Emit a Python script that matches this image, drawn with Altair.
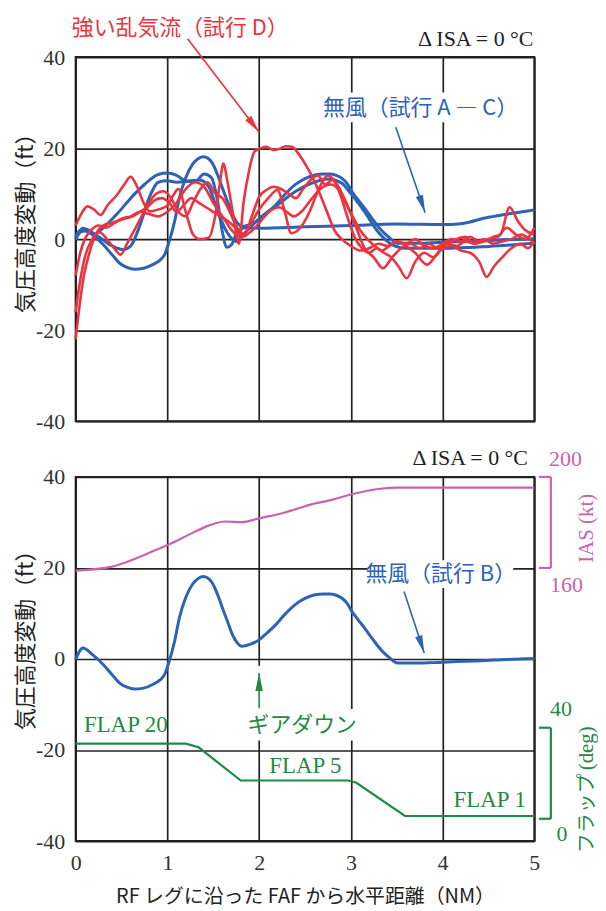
import math
import altair as alt
import pandas as pd

# ---------------- data ----------------
X_DOMAIN = [0, 5]
Y_DOMAIN = [-40, 40]
X_TICKS = [0, 1, 2, 3, 4, 5]
Y_TICKS = [-40, -20, 0, 20, 40]

# no-wind trial B (appears in both panels)
B_X = [0, 0.08, 0.18, 0.30, 0.40, 0.48, 0.56, 0.64, 0.74, 0.84, 0.92, 0.97, 1.02, 1.08, 1.13, 1.20, 1.27,
       1.33, 1.39, 1.44, 1.49, 1.55, 1.60, 1.66, 1.71, 1.76, 1.81, 1.90, 2.00, 2.09, 2.18, 2.28, 2.39, 2.50,
       2.61, 2.70, 2.77, 2.84, 2.90, 2.96, 3.01, 3.08, 3.15, 3.24, 3.33, 3.42, 3.51, 3.70, 3.88, 4.10, 4.42,
       4.70, 5.0]
B_Y = [-0.1, 2.4, 1.0, -1.2, -3.5, -5.3, -6.2, -6.6, -6.4, -5.6, -4.6, -3.4, -0.5, 4.0, 9.0, 13.5, 16.3,
       17.6, 18.1, 17.8, 16.7, 14.0, 11.2, 8.0, 5.3, 3.6, 2.8, 3.2, 4.2, 5.8, 7.5, 9.8, 11.9, 13.3,
       14.1, 14.3, 14.3, 14.0, 13.4, 12.2, 10.5, 8.6, 6.8, 4.3, 2.0, 0.3, -0.9, -0.9, -0.8, -0.6, -0.4,
       -0.1, 0.1]

# no-wind trial A
A_X = [0, 0.05, 0.1, 0.2, 0.3, 0.45, 0.6, 0.75, 0.9, 1.0, 1.1, 1.2, 1.3, 1.4, 1.48, 1.55, 1.6, 1.65,
       1.7, 1.76, 1.85, 2.0, 2.5, 3.0, 3.5, 4.0, 4.2, 4.5, 4.8, 5.0]
A_Y = [0, 1.5, 1.8, 1.0, 2.5, 5.5, 9, 12, 14.2, 14.5, 14, 12.8, 12.6, 14.3, 13.5, 8, 1.5, -1.8,
       -1.2, 1.5, 2.5, 2.4, 2.7, 3.0, 3.3, 3.2, 3.4, 4.8, 5.8, 6.4]

# no-wind trial C
C_X = [0, 0.05, 0.1, 0.25, 0.4, 0.52, 0.6, 0.7, 0.8, 0.9, 1.0, 1.1, 1.25, 1.35, 1.45, 1.55, 1.65, 1.75,
       1.85, 2.0, 2.2, 2.4, 2.6, 2.75, 2.9, 3.0, 3.15, 3.3, 3.45, 3.6, 4.0, 4.5, 5.0]
C_Y = [0.5, 2, 2.2, 0.5, -1.5, -2.3, -1.5, 3, 9, 12.5, 12.8, 12.5, 12.8, 13.0, 11.5, 6, 1.5, -0.5,
       1.5, 4.5, 7.5, 10.5, 12.5, 13.2, 12.3, 10, 6, 1.5, -1.2, -2.0, -2.0, -1.6, -0.9]

# strong turbulence trial D (four runs)
R1_X = [0, 0.06, 0.13, 0.2, 0.27, 0.35, 0.45, 0.53, 0.6, 0.67, 0.74, 0.81, 0.9, 0.99, 1.06, 1.12, 1.2,
        1.28, 1.35, 1.45, 1.52, 1.57, 1.61, 1.66, 1.72, 1.78, 1.83, 1.88, 1.95, 2.02, 2.08, 2.15, 2.22,
        2.29, 2.36, 2.42, 2.5, 2.58, 2.66, 2.74, 2.82, 2.9, 3.0, 3.1, 3.2, 3.3, 3.4, 3.5, 3.6, 3.7, 3.8,
        3.9, 4.0, 4.1, 4.2, 4.3, 4.4, 4.5, 4.6, 4.7, 4.8, 4.9, 5.0]
R1_Y = [3, 5.5, 7.2, 6.5, 5.3, 7.5, 9.7, 12, 13.7, 11.5, 8, 6.1, 6.5, 7.2, 9.5, 11, 6,
        1, 0, 0.3, 5, 12, 16.6, 12, 5, -1, 8, 14, 19.2, 20, 20.3, 19.6, 19.8,
        20.4, 20.3, 19, 16.6, 13.7, 10, 6, 2, 0, -1.5, -2.5, -2, -1, -1.5, -0.5, -1, 0, -1.5,
        -2, -1, 0, -0.5, 0.5, -0.5, 0, 0.5, 2.5, 1, 0, 2.5]

R2_X = [0, 0.05, 0.1, 0.17, 0.25, 0.33, 0.42, 0.5, 0.6, 0.7, 0.8, 0.9, 1.0, 1.1, 1.2, 1.3, 1.4, 1.5,
        1.6, 1.7, 1.8, 1.9, 2.0, 2.1, 2.2, 2.28, 2.35, 2.45, 2.55, 2.65, 2.75, 2.85, 2.95, 3.05, 3.15,
        3.25, 3.35, 3.45, 3.55, 3.65, 3.75, 3.85, 3.95, 4.05, 4.15, 4.25, 4.35, 4.45, 4.55, 4.63, 4.73,
        4.82, 4.9, 5.0]
R2_Y = [-8, -3, 0, 2, 3, 2.5, 3.5, 4.5, 5, 6, 5.5, 5, 6, 8, 11, 12.5, 11.5, 8,
        5, 2, 0.5, 3, 6.5, 9, 10.8, 6, 1.3, 2.5, 6, 11, 14, 12, 8, 3, -2,
        -4, -6.4, -4, -2, -1, -2, -1, -2, -1, 0, 0.5, -1, -0.5, 0.5, 1, 7,
        4, 2, 1]

R3_X = [0, 0.05, 0.1, 0.18, 0.26, 0.34, 0.42, 0.49, 0.56, 0.64, 0.72, 0.8, 0.88, 0.96, 1.04, 1.12, 1.2,
        1.28, 1.36, 1.44, 1.52, 1.6, 1.68, 1.76, 1.84, 1.92, 2.0, 2.08, 2.16, 2.24, 2.32, 2.4, 2.48, 2.56,
        2.64, 2.72, 2.8, 2.88, 2.96, 3.04, 3.12, 3.2, 3.28, 3.36, 3.44, 3.52, 3.61, 3.7, 3.8, 3.9, 4.0,
        4.1, 4.2, 4.3, 4.4, 4.48, 4.56, 4.65, 4.75, 4.85, 4.93, 5.0]
R3_Y = [-16, -9, -4, 0, 1.5, 0, -2, -3.4, -1, 2, 5, 8, 10, 10.5, 9, 6, 5,
        8, 11, 12.5, 10, 9, 6, 2.5, 1, 5, 9.3, 10.8, 11.5, 11, 10, 9, 11, 13,
        14, 12, 13, 10, 5, 0.5, -2, -3, -2, -3, -4, -6, -8.6, -5, -3, -4, -2,
        -1.5, -2.5, -3, -5, -8.3, -6, -4, -2, -1, -2, -0.5]

R4_X = [0, 0.04, 0.09, 0.15, 0.22, 0.3, 0.38, 0.46, 0.54, 0.62, 0.7, 0.78, 0.86, 0.94, 1.02, 1.1, 1.18,
        1.26, 1.34, 1.42, 1.5, 1.58, 1.66, 1.74, 1.82, 1.9, 1.98, 2.06, 2.14, 2.22, 2.3, 2.38, 2.46, 2.54,
        2.62, 2.7, 2.78, 2.86, 2.94, 3.02, 3.1, 3.18, 3.26, 3.34, 3.42, 3.5, 3.6, 3.7, 3.83, 3.95, 4.05,
        4.15, 4.25, 4.35, 4.45, 4.55, 4.65, 4.75, 4.85, 5.0]
R4_Y = [-22, -15, -8, -3, 1, 3, 3.5, 4, 4.5, 5, 6, 7, 8.5, 9, 8, 6, 7.5,
        9, 8, 7, 6, 5, 4, 2.5, 0.5, 1.5, 3, 5, 6.5, 7, 6, 5, 6, 8,
        10, 11.5, 12, 11, 8, 5, 2, 0, -1.5, -2.5, -1.5, -0.5, -1.5, -3, -5.6, -3, -1,
        -1.5, -0.5, -1, 0, -1, -0.5, 0, 1, -1]

# IAS (kt) and flap (deg), bottom panel
IAS_X = [0, 0.4, 0.62, 0.84, 1.02, 1.27, 1.45, 1.63, 1.81, 2.0, 2.29, 2.43, 2.54, 2.79, 3.01, 3.30,
         3.51, 3.8, 4.2, 5.0]
IAS_KT = [158.8, 160.6, 163.6, 167.3, 170.4, 175.3, 178.6, 180.4, 180.1, 181.8, 184.5, 186.2, 187.6,
          189.9, 192.4, 194.7, 195.3, 195.3, 195.3, 195.3]
FLAP_X = [0, 1.20, 1.34, 1.80, 2.97, 3.06, 3.59, 5.0]
FLAP_DEG = [33.0, 33.0, 31.4, 16.8, 16.8, 15.8, 1.2, 1.2]

# secondary scales placed on the ft axis: (value range) -> (ft range)
IAS_RANGE = [160, 200]
IAS_FT = [20, 40]
FLAP_RANGE = [0, 40]
FLAP_FT = [-35.1, -15.1]

BLUE = "#2d62b6"
RED = "#ec3440"
PINK = "#cc62ae"
GREEN = "#1f8a45"
INK = "#222222"
JP = "Noto Sans CJK JP"
SERIF = "Liberation Serif"
FS_JP = 22
FS_SERIF = 22

W, H = 461, 366
SX = W / (X_DOMAIN[1] - X_DOMAIN[0])
SY = H / (Y_DOMAIN[1] - Y_DOMAIN[0])


def ias_to_ft(v):
    return IAS_FT[0] + (v - IAS_RANGE[0]) * (IAS_FT[1] - IAS_FT[0]) / (IAS_RANGE[1] - IAS_RANGE[0])


def flap_to_ft(v):
    return FLAP_FT[0] + (v - FLAP_RANGE[0]) * (FLAP_FT[1] - FLAP_FT[0]) / (FLAP_RANGE[1] - FLAP_RANGE[0])


def head_angle(x1, y1, x2, y2):
    dx = (x2 - x1) * SX
    dy = -(y2 - y1) * SY
    return math.degrees(math.atan2(dx, -dy)) % 360


xs = alt.Scale(domain=X_DOMAIN, nice=False, zero=False)
ys = alt.Scale(domain=Y_DOMAIN, nice=False, zero=False)

Y_TITLE = "気圧高度変動（ft）"
X_TITLE = "RF レグに沿った FAF から水平距離（NM）"

Y_AXIS = alt.Axis(values=Y_TICKS, title=None, labelExpr="'' + datum.value",
                  labelFont=SERIF, labelFontSize=FS_SERIF, labelColor="#333", labelPadding=11,
                  ticks=False, tickSize=0, domain=False, grid=True, gridColor=INK,
                  gridWidth=1.7, gridOpacity=1)
X_AXIS_BOTTOM = alt.Axis(values=X_TICKS, title=X_TITLE, titleFont=JP,
                         titleFontSize=20, titleFontWeight="normal", titleColor=INK, titlePadding=13,
                         labelFont=SERIF, labelFontSize=FS_SERIF, labelColor="#333", labelPadding=12,
                         ticks=False, tickSize=0, domain=False, grid=True, gridColor=INK,
                         gridWidth=1.7, gridOpacity=1, labelFlush=False)
X_AXIS_TOP = alt.Axis(values=X_TICKS, title=None, labels=False, ticks=False, tickSize=0, domain=False,
                      grid=True, gridColor=INK, gridWidth=1.7, gridOpacity=1)


class Panel:
    def __init__(self, x_axis):
        self.x_axis = x_axis

    def x(self, field):
        return alt.X(field, scale=xs, axis=self.x_axis)

    def y(self, field):
        return alt.Y(field, scale=ys, axis=Y_AXIS)

    def line(self, df, color, width, interp="monotone"):
        return alt.Chart(df).mark_line(color=color, strokeWidth=width, interpolate=interp).encode(
            x=self.x("x:Q"), y=self.y("y:Q"), detail="s:N")

    def text(self, rows, **kw):
        return alt.Chart(pd.DataFrame(rows)).mark_text(baseline="middle", **kw).encode(
            x=self.x("x:Q"), y=self.y("y:Q"), text="t:N")

    def rects(self, rows):
        return alt.Chart(pd.DataFrame(rows)).mark_rect(fill="white").encode(
            x=self.x("x:Q"), x2="x2:Q", y=self.y("y:Q"), y2="y2:Q")

    def arrows(self, rows):
        df = pd.DataFrame(rows)
        df["angle"] = [head_angle(r.x, r.y, r.x2, r.y2) for r in df.itertuples()]
        shaft = alt.Chart(df).mark_rule(strokeWidth=1.6).encode(
            x=self.x("x:Q"), x2="x2:Q", y=self.y("y:Q"), y2="y2:Q",
            color=alt.Color("c:N", scale=None))
        head = alt.Chart(df).mark_point(shape="M0,0L-0.42,2L0.42,2Z", filled=True, opacity=1,
                                        size=320, strokeWidth=0).encode(
            x=self.x("x2:Q"), y=self.y("y2:Q"),
            angle=alt.Angle("angle:Q", scale=None),
            color=alt.Color("c:N", scale=None))
        return [shaft, head]


def lines_df(pairs):
    rows = []
    for name, xv, yv in pairs:
        for a, b in zip(xv, yv):
            rows.append({"x": a, "y": b, "s": name})
    return pd.DataFrame(rows)


# ---------------- top panel ----------------
P1 = Panel(X_AXIS_TOP)
top_blue = lines_df([("A", A_X, A_Y), ("B", B_X, B_Y), ("C", C_X, C_Y)])
top_red = lines_df([("D1", R1_X, R1_Y), ("D2", R2_X, R2_Y), ("D3", R3_X, R3_Y), ("D4", R4_X, R4_Y)])

top = alt.layer(
    P1.rects([{"x": 2.72, "x2": 4.80, "y": 25.7, "y2": 32.2}]),
    P1.line(top_blue, BLUE, 3),
    P1.line(top_red, RED, 2.6),
    *P1.arrows([
        {"x": 1.22, "y": 44.0, "x2": 2.0, "y2": 23.5, "c": RED},
        {"x": 3.49, "y": 24.6, "x2": 3.81, "y2": 5.8, "c": BLUE},
    ]),
    P1.text([{"x": 1.14, "y": 46.4, "t": "強い乱気流（試行 D）"}],
            font=JP, fontSize=FS_JP, color=RED, align="center"),
    P1.text([{"x": 3.76, "y": 28.9, "t": "無風（試行 A ― C）"}],
            font=JP, fontSize=FS_JP, color=BLUE, align="center"),
    P1.text([{"x": 4.99, "y": 44.0, "t": "Δ ISA = 0 °C"}],
            font=SERIF, fontSize=FS_SERIF, color=INK, align="right"),
    P1.text([{"x": -0.54, "y": 4.7, "t": Y_TITLE}],
            font=JP, fontSize=FS_JP, color=INK, align="center", angle=270),
).properties(width=W, height=H)

# ---------------- bottom panel ----------------
P2 = Panel(X_AXIS_BOTTOM)
b_df = lines_df([("B", B_X, B_Y)])
ias_df = lines_df([("IAS", IAS_X, [ias_to_ft(v) for v in IAS_KT])])
flap_df = lines_df([("flap", FLAP_X, [flap_to_ft(v) for v in FLAP_DEG])])

BR_X_IN, BR_X_OUT = 5.05, 5.18
brackets = []
for lo, hi, col in [(ias_to_ft(IAS_RANGE[0]), ias_to_ft(IAS_RANGE[1]), PINK),
                    (flap_to_ft(FLAP_RANGE[0]), flap_to_ft(FLAP_RANGE[1]), GREEN)]:
    brackets += [
        {"x": BR_X_OUT, "x2": BR_X_OUT, "y": lo, "y2": hi, "c": col},
        {"x": BR_X_IN, "x2": BR_X_OUT, "y": lo, "y2": lo, "c": col},
        {"x": BR_X_IN, "x2": BR_X_OUT, "y": hi, "y2": hi, "c": col},
    ]
bracket_layer = alt.Chart(pd.DataFrame(brackets)).mark_rule(strokeWidth=2.2).encode(
    x=P2.x("x:Q"), x2="x2:Q", y=P2.y("y:Q"), y2="y2:Q", color=alt.Color("c:N", scale=None))

sec_labels = pd.DataFrame([
    {"x": 5.34, "y": ias_to_ft(IAS_RANGE[1]) + 4.0, "t": str(IAS_RANGE[1]), "c": PINK},
    {"x": 5.35, "y": ias_to_ft(IAS_RANGE[0]) - 3.7, "t": str(IAS_RANGE[0]), "c": PINK},
    {"x": 5.29, "y": flap_to_ft(FLAP_RANGE[1]) + 4.0, "t": str(FLAP_RANGE[1]), "c": GREEN},
    {"x": 5.30, "y": flap_to_ft(FLAP_RANGE[0]) - 3.4, "t": str(FLAP_RANGE[0]), "c": GREEN},
])
sec_label_layer = alt.Chart(sec_labels).mark_text(font=SERIF, fontSize=FS_SERIF, align="center",
                                                   baseline="middle").encode(
    x=P2.x("x:Q"), y=P2.y("y:Q"), text="t:N", color=alt.Color("c:N", scale=None))

RIGHT_TITLE_X = 5.57
FLAP_TITLE_START = -42.6
FLAP_JP = "フラップ"
deg_start = FLAP_TITLE_START + (len(FLAP_JP) * 20 + 3) / SY

bottom = alt.layer(
    P2.rects([
        {"x": 3.19, "x2": 4.77, "y": 15.6, "y2": 21.7},
        {"x": 1.83, "x2": 3.10, "y": -11.0, "y2": -17.9},
        {"x": 1.96, "x2": 2.04, "y": -1.5, "y2": -11.0},
    ]),
    P2.line(ias_df, PINK, 2.2),
    P2.line(flap_df, GREEN, 2.2, interp="linear"),
    P2.line(b_df, BLUE, 3),
    bracket_layer,
    *P2.arrows([
        {"x": 3.58, "y": 14.8, "x2": 3.80, "y2": 1.3, "c": BLUE},
        {"x": 2.0, "y": -10.8, "x2": 2.0, "y2": -3.1, "c": GREEN},
    ]),
    sec_label_layer,
    P2.text([{"x": 4.93, "y": 44.1, "t": "Δ ISA = 0 °C"}],
            font=SERIF, fontSize=FS_SERIF, color=INK, align="right"),
    P2.text([{"x": 3.98, "y": 18.6, "t": "無風（試行 B）"}],
            font=JP, fontSize=FS_JP, color=BLUE, align="center"),
    P2.text([{"x": 2.47, "y": -14.5, "t": "ギアダウン"}],
            font=JP, fontSize=FS_JP, color=GREEN, align="center"),
    P2.text([{"x": 0.09, "y": -14.5, "t": "FLAP 20"},
             {"x": 2.11, "y": -23.5, "t": "FLAP 5"},
             {"x": 4.12, "y": -30.9, "t": "FLAP 1"}],
            font=SERIF, fontSize=23, color=GREEN, align="left"),
    P2.text([{"x": RIGHT_TITLE_X, "y": 28.7, "t": "IAS (kt)"}],
            font=SERIF, fontSize=21, color=PINK, align="center", angle=270),
    P2.text([{"x": RIGHT_TITLE_X, "y": FLAP_TITLE_START, "t": FLAP_JP}],
            font=JP, fontSize=20, color=GREEN, align="left", angle=270),
    P2.text([{"x": RIGHT_TITLE_X, "y": deg_start, "t": "(deg)"}],
            font=SERIF, fontSize=21, color=GREEN, align="left", angle=270),
    P2.text([{"x": -0.54, "y": 5.3, "t": Y_TITLE}],
            font=JP, fontSize=FS_JP, color=INK, align="center", angle=270),
).properties(width=W, height=H)

chart = alt.vconcat(top, bottom, spacing=56, bounds="flush").properties(
    padding={"left": 6, "top": 5, "right": 0, "bottom": 0}
).configure_view(stroke=INK, strokeWidth=2)

chart.save("out.html", embed_options={"renderer": "svg", "actions": False})
